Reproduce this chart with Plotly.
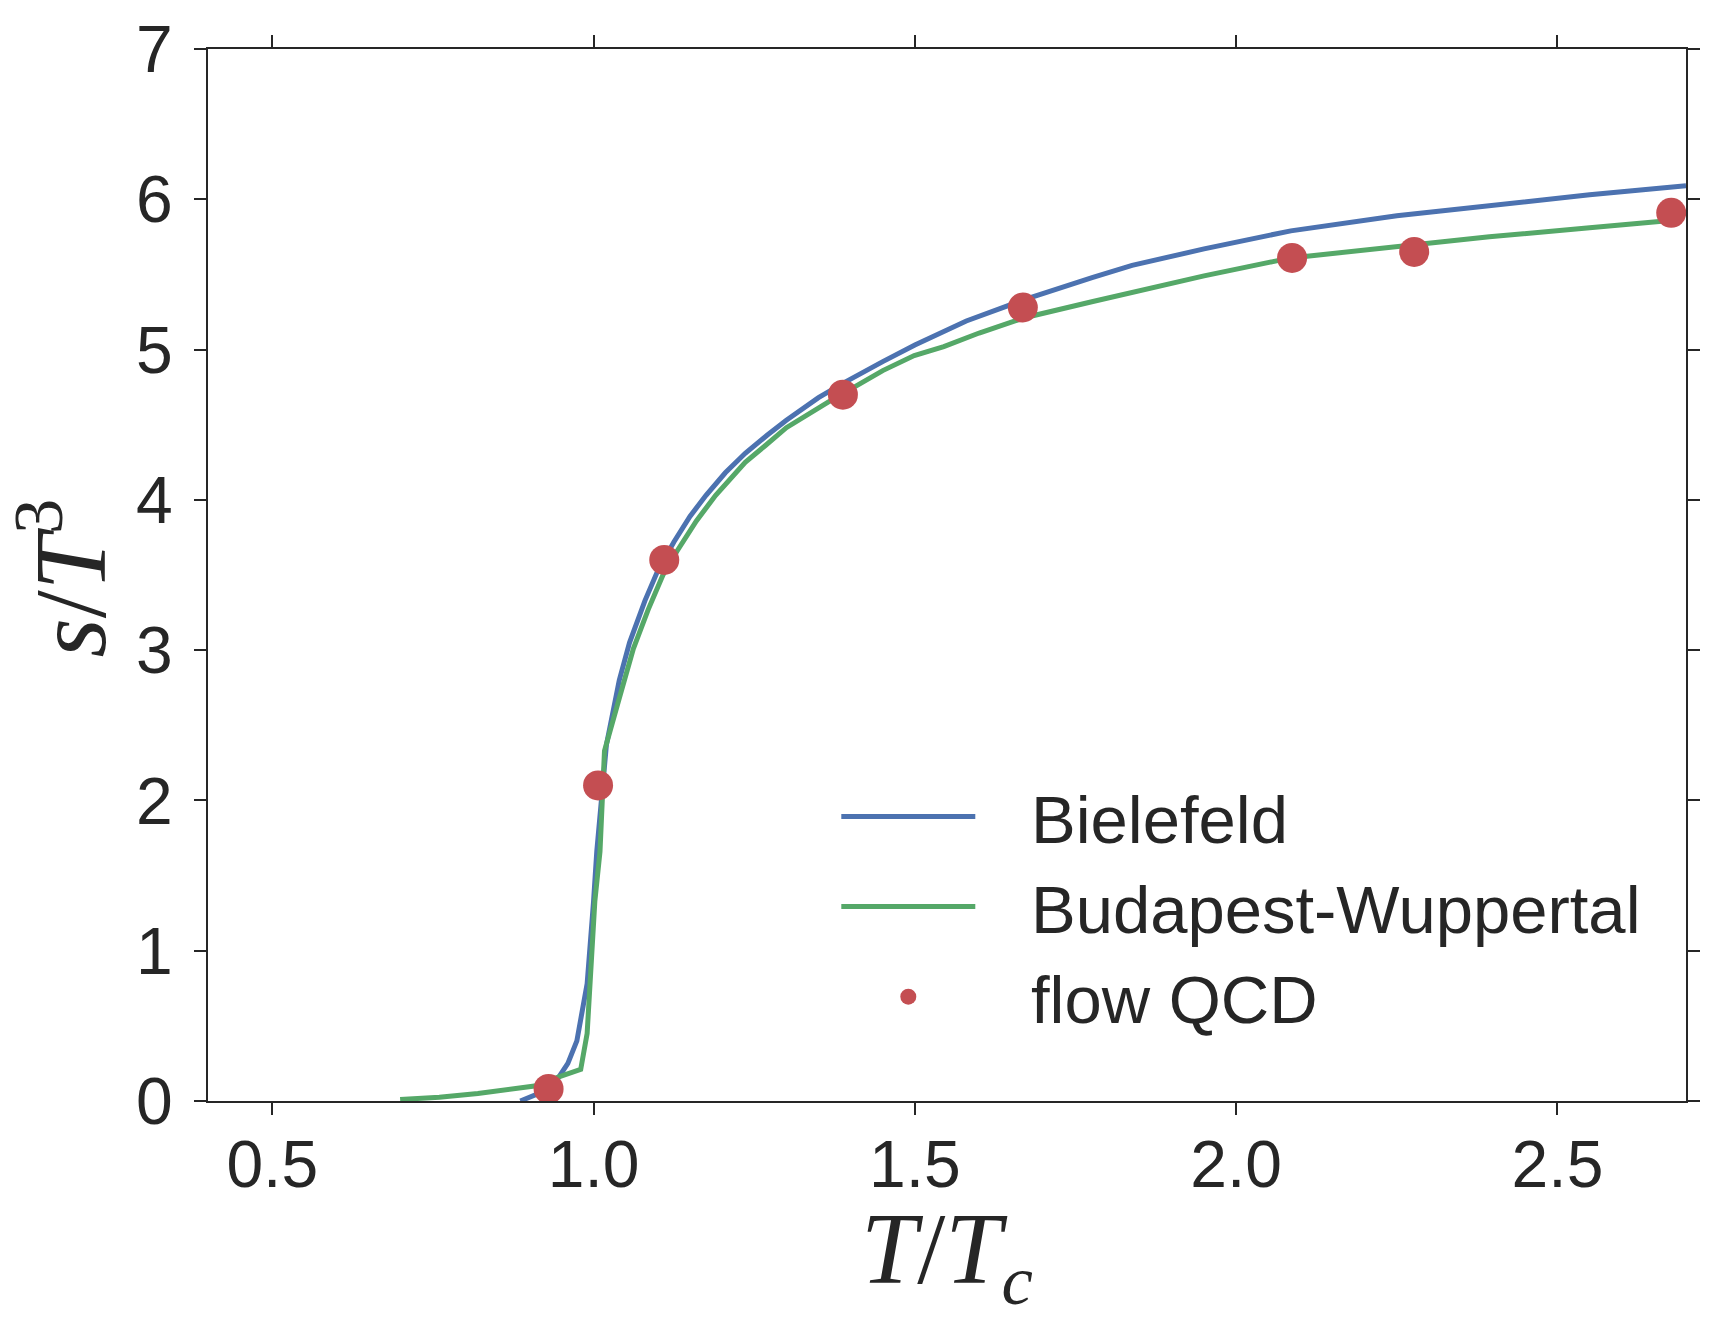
import plotly.graph_objects as go

# Bielefeld lattice curve
bielefeld_x = [0.886, 0.92, 0.943, 0.96, 0.974, 0.99, 1.0, 1.005, 1.02, 1.04, 1.056, 1.08, 1.10,
               1.125, 1.15, 1.175, 1.205, 1.236, 1.27, 1.30, 1.35, 1.39, 1.45, 1.50, 1.58, 1.669,
               1.777, 1.838, 1.95, 2.085, 2.25, 2.394, 2.55, 2.70]
bielefeld_y = [0.0, 0.06, 0.14, 0.25, 0.40, 0.78, 1.33, 1.66, 2.37, 2.80, 3.05, 3.33, 3.53,
               3.72, 3.89, 4.03, 4.18, 4.31, 4.43, 4.53, 4.68, 4.78, 4.92, 5.03, 5.19, 5.33,
               5.48, 5.56, 5.67, 5.79, 5.89, 5.96, 6.03, 6.09]

# Budapest-Wuppertal lattice curve
bw_x = [0.699, 0.76, 0.82, 0.87, 0.908, 0.946, 0.980, 0.99, 1.002, 1.01, 1.017, 1.04, 1.062,
        1.085, 1.108, 1.13, 1.16, 1.19, 1.236, 1.267, 1.30, 1.365, 1.386, 1.45, 1.499, 1.545,
        1.60, 1.669, 1.777, 1.838, 1.95, 2.085, 2.25, 2.394, 2.55, 2.68]
bw_y = [0.01, 0.025, 0.05, 0.075, 0.10, 0.16, 0.21, 0.45, 1.33, 1.66, 2.33, 2.68, 3.01,
        3.27, 3.50, 3.66, 3.86, 4.03, 4.25, 4.36, 4.48, 4.65, 4.70, 4.86, 4.96, 5.02,
        5.11, 5.21, 5.32, 5.38, 5.49, 5.61, 5.685, 5.75, 5.81, 5.86]

# flow QCD points
flow_x = [0.93, 1.007, 1.11, 1.388, 1.668, 2.087, 2.277, 2.677]
flow_y = [0.08, 2.10, 3.60, 4.70, 5.28, 5.61, 5.65, 5.91]
flow_err = [0.04, 0.06, 0.06, 0.05, 0.05, 0.05, 0.05, 0.05]

x_ticks = [0.5, 1.0, 1.5, 2.0, 2.5]
x_ticklabels = ["0.5", "1.0", "1.5", "2.0", "2.5"]
y_ticks = [0, 1, 2, 3, 4, 5, 6, 7]

BLUE = "#4C72B0"
GREEN = "#55A868"
RED = "#C44E52"
DARK = "#262626"
PAD = "\u00a0\u00a0\u2009"

fig = go.Figure()
fig.add_trace(go.Scatter(x=bielefeld_x, y=bielefeld_y, mode="lines", name=PAD + "Bielefeld",
                         line=dict(color=BLUE, width=5)))
fig.add_trace(go.Scatter(x=bw_x, y=bw_y, mode="lines", name=PAD + "Budapest-Wuppertal",
                         line=dict(color=GREEN, width=5)))
fig.add_trace(go.Scatter(x=flow_x, y=flow_y, mode="markers", name=PAD + "flow QCD",
                         marker=dict(color=RED, size=30, line=dict(width=0)),
                         error_y=dict(type="data", array=flow_err, color=RED, thickness=3, width=0)))

axis_common = dict(
    showline=True, linecolor=DARK, linewidth=2, mirror="ticks",
    ticks="outside", ticklen=12, tickwidth=2, tickcolor=DARK,
    showgrid=False, zeroline=False,
    tickfont=dict(family="Liberation Sans, Arial, sans-serif", size=66, color=DARK),
)

fig.update_xaxes(range=[0.4, 2.7], tickvals=x_ticks, ticktext=x_ticklabels,
                 ticklabelstandoff=-7, **axis_common)
fig.update_yaxes(range=[0, 7], tickvals=y_ticks, ticklabelstandoff=8, **axis_common)

title_font = dict(family="Liberation Serif, DejaVu Serif, serif", size=101, color=DARK)
fig.add_annotation(text="<i>T</i>/<i>T</i><sub><i>c</i></sub>", xref="paper", yref="paper",
                   x=0.5, y=-0.1476, xanchor="center", yanchor="middle",
                   showarrow=False, font=title_font)
fig.add_annotation(text="<i>s</i>/<i>T</i><sup>3</sup>", xref="paper", yref="paper",
                   x=-0.0985, y=0.497, xanchor="center", yanchor="middle", textangle=-90,
                   showarrow=False, font=title_font)

fig.update_layout(
    width=1712, height=1324,
    margin=dict(l=208, r=15, t=45, b=223),
    plot_bgcolor="white", paper_bgcolor="white",
    showlegend=True,
    legend=dict(x=0.4251, y=0.318, xanchor="left", yanchor="top",
                bgcolor="rgba(0,0,0,0)", borderwidth=0,
                font=dict(family="Liberation Sans, Arial, sans-serif", size=67, color=DARK),
                itemwidth=134, tracegroupgap=0),
)

fig.write_html("out.html")
